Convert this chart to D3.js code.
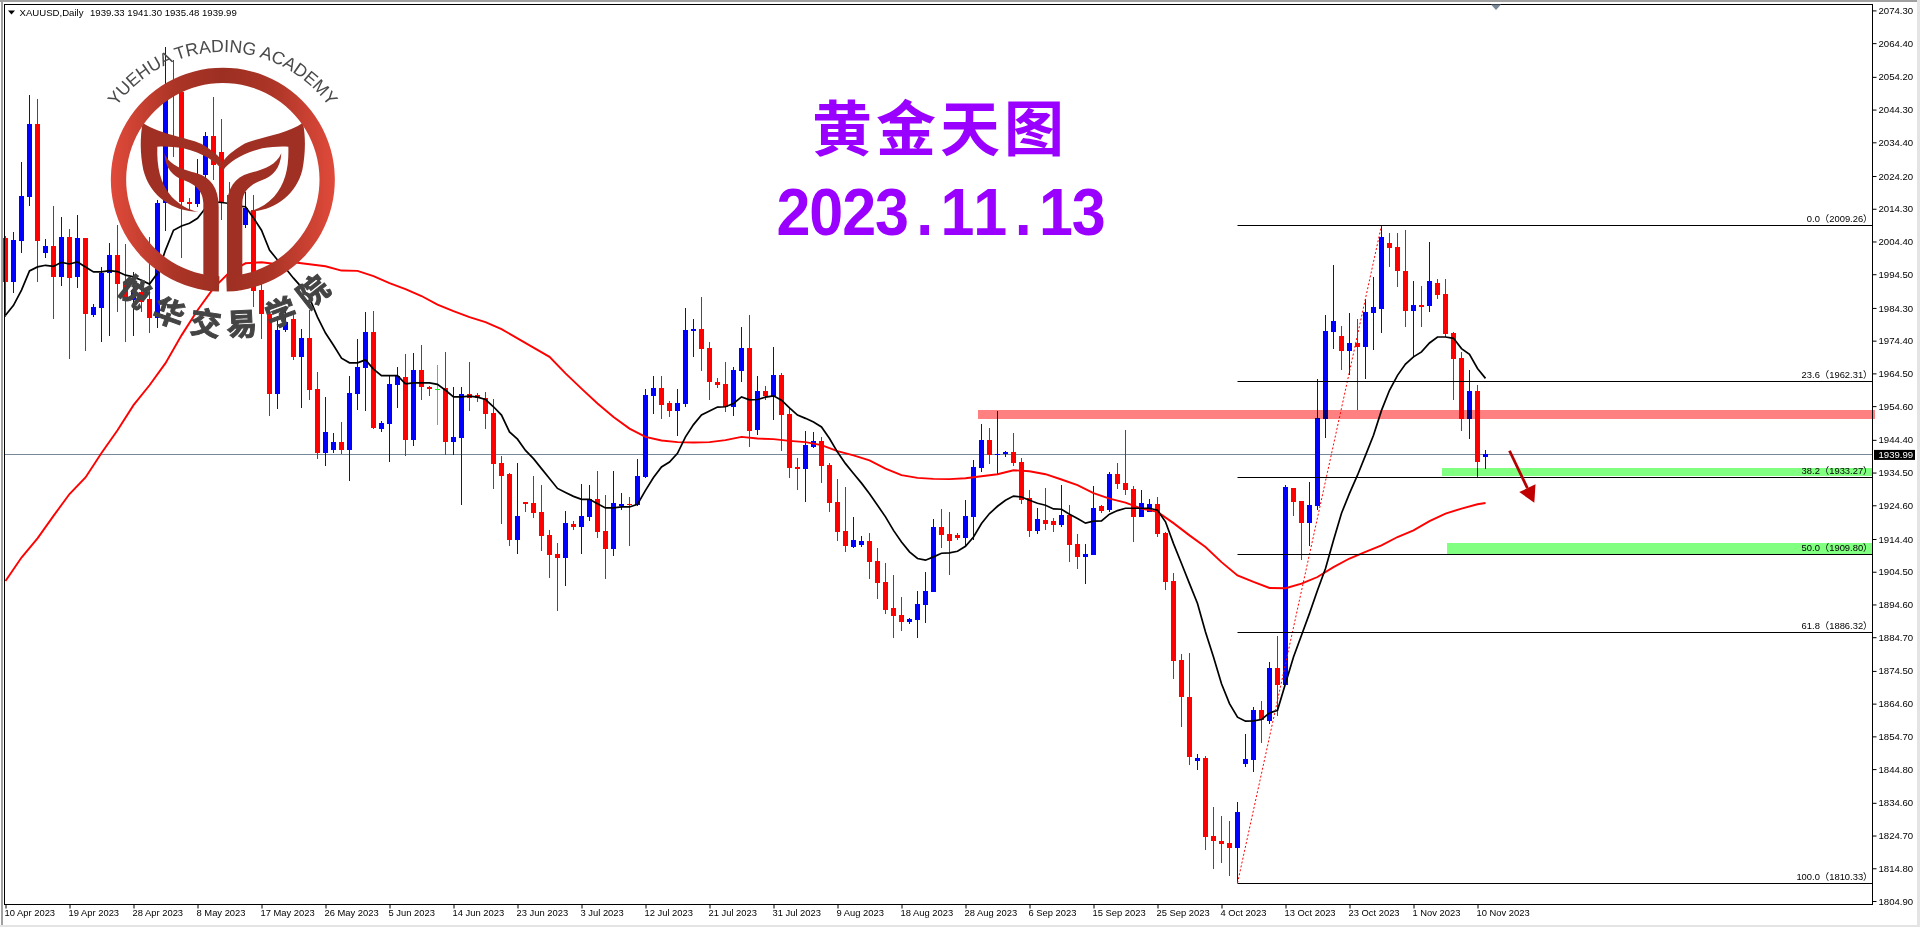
<!DOCTYPE html>
<html><head><meta charset="utf-8">
<script src="https://cdn.jsdelivr.net/npm/d3@7"></script>
<style>html,body{margin:0;padding:0;background:#fff;overflow:hidden}svg{display:block}text{font-family:"Liberation Sans",Arial,"Noto Sans CJK SC",sans-serif}</style>
</head><body><div id="chart"></div>
<script>
const opens=[2005.4,1992.2,2004.6,2017.9,2039.9,2001.0,2003.0,1993.7,2005.7,1993.7,
2005.4,1982.2,1984.3,1995.0,2000.3,1991.7,1986.6,1989.1,1987.0,1981.3,
2015.9,2050.8,2049.7,2016.3,2015.7,2024.5,2036.3,2031.5,2018.4,2015.4,
2009.4,2013.9,1989.7,1982.6,1958.2,1977.6,1980.8,1969.4,1975.2,1959.7,
1940.4,1941.3,1943.7,1941.3,1958.2,1966.2,1977.0,1947.6,1949.1,1960.9,
1963.3,1944.3,1965.4,1960.3,1959.9,1960.0,1943.7,1944.9,1958.2,1957.9,
1957.0,1952.4,1937.3,1934.0,1914.0,1925.5,1925.2,1922.5,1915.5,1909.8,
1908.6,1918.9,1918.0,1921.0,1926.4,1916.7,1911.3,1924.3,1924.9,1924.6,
1933.1,1957.6,1960.0,1955.5,1953.1,1955.2,1977.3,1977.9,1972.1,1961.8,
1961.2,1954.3,1965.2,1972.1,1947.3,1959.1,1957.6,1964.0,1952.1,1936.1,
1935.5,1942.2,1944.0,1936.7,1925.5,1916.7,1911.9,1912.5,1913.7,1907.7,
1901.3,1893.4,1891.3,1889.2,1889.8,1894.3,1898.3,1918.0,1915.8,1915.5,
1914.6,1921.0,1935.8,1944.3,1939.7,1940.0,1940.7,1937.6,1926.7,1916.7,
1920.1,1919.8,1918.6,1921.6,1912.8,1908.9,1909.5,1924.3,1923.1,1934.0,
1931.3,1929.5,1921.0,1922.5,1924.9,1916.1,1901.6,1877.7,1866.5,1847.4,
1848.3,1824.7,1823.2,1822.3,1820.8,1846.2,1847.7,1862.6,1859.2,1875.3,
1870.1,1929.7,1925.8,1919.2,1924.3,1950.6,1977.0,1975.8,1971.2,1973.6,
1972.4,1982.7,1984.0,2003.9,2002.7,1995.4,1983.3,1985.1,1984.8,1991.8,
1988.5,1976.7,1969.1,1950.6,1959.1,1939.33];
const highs=[2006.0,2007.4,2028.3,2048.7,2047.4,2005.0,2015.1,2011.8,2008.1,2012.4,
2005.4,1985.4,1996.6,2003.9,2009.4,2003.6,1995.1,1991.5,2005.8,2016.9,
2063.1,2059.3,2051.7,2017.5,2029.3,2037.5,2048.0,2041.4,2022.5,2019.9,
2019.3,2018.4,1994.2,1983.6,1981.8,1983.6,1982.6,1977.8,1983.6,1964.9,
1957.3,1946.4,1949.7,1963.6,1974.8,1983.0,1983.3,1950.0,1963.6,1966.4,
1970.3,1970.6,1973.0,1960.6,1967.0,1970.9,1960.3,1960.3,1967.9,1958.5,
1958.8,1956.7,1939.4,1934.3,1937.3,1925.5,1933.4,1930.7,1917.0,1913.1,
1922.8,1919.8,1931.0,1930.7,1934.9,1927.6,1934.9,1928.2,1927.0,1938.5,
1959.7,1963.6,1963.6,1956.1,1959.7,1984.2,1980.9,1987.6,1973.9,1963.0,
1967.9,1966.4,1978.5,1982.1,1963.6,1960.6,1972.4,1964.6,1954.3,1938.8,
1947.0,1946.7,1945.2,1937.3,1932.5,1930.1,1921.0,1915.2,1916.1,1911.6,
1907.1,1903.4,1896.8,1890.4,1898.6,1904.3,1920.4,1923.4,1922.5,1916.1,
1926.1,1938.2,1949.1,1947.9,1953.1,1941.0,1946.4,1938.8,1929.1,1923.7,
1929.7,1920.7,1930.7,1924.6,1915.8,1912.8,1930.4,1924.6,1934.6,1937.3,
1947.3,1930.4,1929.1,1926.4,1927.0,1916.4,1904.0,1879.5,1879.8,1849.5,
1848.9,1833.2,1830.5,1829.0,1834.7,1855.3,1863.5,1865.3,1877.1,1885.0,
1930.7,1929.7,1925.8,1931.6,1962.7,1982.1,1997.2,1978.8,1982.7,1980.9,
1987.0,1993.6,2009.26,2006.9,2006.9,2007.8,1992.4,1990.9,2004.2,1993.0,
1993.0,1977.0,1970.9,1965.4,1960.9,1941.30];
const lows=[1981.6,1988.7,2001.0,2015.2,1992.2,1999.5,1981.0,1991.0,1968.9,1990.4,
1971.3,1981.6,1974.0,1975.8,1983.1,1974.0,1975.8,1983.0,1976.8,1978.3,
2007.5,2029.9,1999.5,2013.9,2014.9,2023.6,2023.0,2010.9,2012.4,2013.3,
2008.5,1984.6,1974.8,1951.6,1953.7,1977.1,1968.5,1953.9,1956.4,1938.5,
1936.4,1940.4,1940.0,1931.9,1953.4,1953.1,1947.6,1946.7,1937.6,1954.0,
1939.4,1942.5,1956.4,1957.6,1948.8,1939.7,1939.7,1924.6,1953.1,1955.8,
1947.6,1929.5,1918.9,1912.2,1909.8,1922.5,1920.7,1910.7,1902.5,1892.5,
1900.1,1917.0,1909.8,1919.8,1914.6,1902.2,1909.2,1923.1,1912.2,1924.3,
1932.8,1952.1,1950.6,1951.2,1945.5,1954.3,1969.4,1965.2,1956.4,1960.0,
1952.8,1951.5,1961.8,1942.2,1945.8,1956.4,1950.3,1941.0,1932.8,1929.1,
1925.5,1941.9,1931.3,1922.5,1913.7,1910.4,1911.6,1911.9,1902.2,1896.2,
1891.6,1884.6,1886.5,1888.6,1884.4,1888.9,1898.3,1911.6,1903.4,1914.0,
1912.2,1914.0,1934.6,1937.0,1934.0,1939.1,1936.4,1924.9,1914.9,1915.8,
1917.0,1916.4,1918.0,1907.4,1905.2,1900.7,1909.5,1922.2,1922.5,1929.5,
1927.6,1913.4,1921.0,1922.5,1914.9,1898.9,1872.2,1857.4,1845.9,1844.4,
1820.2,1814.7,1816.3,1812.6,1810.33,1845.3,1843.8,1852.6,1858.3,1861.0,
1870.1,1921.3,1907.9,1912.2,1923.1,1944.9,1971.8,1965.4,1964.0,1953.4,
1962.7,1971.5,1976.7,1996.6,1990.6,1978.5,1969.4,1978.5,1983.0,1987.0,
1975.5,1956.4,1947.0,1944.6,1933.1,1935.48];
const closes=[1992.2,2004.8,2018.1,2039.9,2004.6,2003.0,1993.7,2005.7,1993.4,2005.4,
1982.5,1984.5,1995.0,2000.3,1991.6,1987.3,1989.7,1986.0,1981.3,2015.9,
2047.2,2049.6,2016.4,2015.7,2024.5,2036.3,2027.5,2016.4,2015.4,2018.4,
2014.5,1989.5,1982.4,1958.2,1977.6,1980.1,1969.4,1975.2,1959.4,1940.4,
1946.7,1943.7,1941.3,1958.5,1966.4,1977.0,1947.9,1949.4,1961.2,1963.6,
1944.3,1965.4,1960.3,1959.7,1959.9,1943.7,1945.2,1958.2,1957.0,1957.0,
1952.1,1937.0,1933.4,1914.0,1921.3,1924.9,1922.2,1915.2,1909.5,1908.6,
1919.2,1918.0,1921.3,1926.4,1916.4,1911.3,1925.2,1924.9,1924.6,1933.4,
1957.9,1960.0,1954.9,1953.1,1955.5,1977.6,1977.9,1971.8,1961.8,1960.9,
1954.3,1965.4,1972.1,1947.0,1959.1,1957.6,1964.0,1951.9,1935.8,1935.5,
1942.8,1944.0,1936.4,1925.2,1916.4,1912.2,1914.0,1913.7,1907.4,1901.0,
1892.8,1891.0,1889.2,1890.1,1894.6,1898.6,1918.0,1915.5,1913.7,1914.6,
1921.3,1936.1,1944.3,1939.7,1940.0,1940.7,1937.3,1926.1,1916.7,1920.4,
1918.9,1918.6,1921.6,1912.5,1908.9,1909.8,1923.7,1922.8,1934.0,1931.0,
1929.1,1921.0,1925.2,1924.9,1915.8,1901.3,1877.4,1866.5,1848.6,1848.3,
1824.4,1822.9,1822.0,1820.8,1831.7,1848.0,1862.6,1859.5,1875.3,1870.1,
1930.0,1925.5,1919.2,1924.6,1951.0,1977.3,1980.3,1971.2,1973.6,1972.4,
1983.0,1984.5,2005.7,2002.4,1995.4,1983.3,1985.1,1984.5,1992.4,1988.2,
1976.4,1968.8,1950.6,1959.1,1937.6,1939.99];
const fastMA=[1982.1,1985.1,1989.7,1995.5,1996.7,1997.2,1996.9,1998.1,1997.6,1998.2,
1996.7,1995.2,1995.2,1995.6,1995.3,1994.2,1993.7,1992.7,1991.5,1994.8,
2001.8,2007.8,2009.1,2009.9,2011.4,2014.5,2016.4,2016.2,2015.9,2015.1,
2014.9,2011.5,2007.8,2001.8,1998.8,1996.3,1993.3,1990.6,1987.3,1981.5,
1976.7,1973.0,1969.1,1967.7,1967.7,1968.6,1965.8,1963.8,1963.8,1963.8,
1961.3,1961.6,1961.6,1961.6,1961.2,1959.4,1957.4,1957.4,1957.6,1957.3,
1956.6,1954.4,1951.9,1946.8,1944.6,1941.2,1938.7,1935.7,1932.7,1929.7,
1928.5,1927.3,1926.4,1926.4,1925.1,1923.8,1923.8,1924.1,1924.1,1924.9,
1929.1,1933.0,1936.2,1937.7,1940.3,1945.3,1949.0,1951.9,1953.1,1954.3,
1954.4,1955.4,1957.4,1956.5,1956.6,1957.3,1957.7,1956.4,1954.1,1951.9,
1950.9,1949.8,1948.3,1944.8,1940.7,1937.2,1934.2,1931.3,1928.1,1924.6,
1921.1,1917.0,1913.5,1910.5,1908.5,1908.0,1909.0,1910.1,1910.2,1910.7,
1912.2,1915.0,1919.1,1922.1,1924.3,1926.1,1927.4,1927.1,1926.1,1925.2,
1924.6,1923.5,1923.4,1921.9,1920.6,1919.2,1919.8,1919.9,1921.9,1923.0,
1923.7,1923.7,1923.7,1923.7,1923.1,1919.6,1913.0,1907.0,1900.9,1894.9,
1886.3,1878.7,1870.6,1864.6,1860.5,1859.3,1859.4,1859.8,1861.8,1862.6,
1870.7,1878.7,1885.3,1891.9,1898.9,1905.5,1914.0,1922.2,1928.2,1933.7,
1939.7,1945.8,1953.3,1959.4,1963.9,1967.3,1969.5,1971.0,1973.7,1975.5,
1975.5,1975.1,1972.0,1970.3,1966.0,1963.0];
const slowMA=[1901.7,1908.8,1914.6,1921.4,1928.0,1933.0,1940.4,1947.3,1954.9,1960.9,
1967.6,1976.0,1983.6,1990.3,1995.1,1997.8,1998.1,1997.5,1998.1,1997.5,
1996.9,1995.6,1995.5,1993.9,1991.8,1990.0,1987.9,1985.3,1983.3,1981.5,
1980.0,1977.9,1975.1,1972.3,1969.5,1964.5,1959.9,1955.4,1951.3,1947.8,
1945.3,1944.2,1943.7,1943.6,1943.7,1944.3,1945.3,1944.8,1944.6,1944.1,
1943.7,1942.8,1941.0,1939.7,1938.2,1935.7,1933.7,1932.9,1932.6,1932.5,
1932.8,1933.4,1934.0,1935.2,1934.9,1934.0,1932.4,1930.7,1928.3,1926.6,
1925.4,1923.6,1922.6,1919.2,1915.5,1912.0,1907.4,1903.4,1901.4,1899.6,
1899.5,1900.9,1902.9,1905.9,1908.5,1910.5,1912.5,1915.0,1917.0,1919.8,
1922.1,1923.6,1924.9,1925.3];
const slowBars=slowMA.map((v,k)=>Math.min(k*2,185));
const dateLabels=["10 Apr 2023","19 Apr 2023","28 Apr 2023","8 May 2023","17 May 2023","26 May 2023","5 Jun 2023","14 Jun 2023","23 Jun 2023","3 Jul 2023","12 Jul 2023","21 Jul 2023","31 Jul 2023","9 Aug 2023","18 Aug 2023","28 Aug 2023","6 Sep 2023","15 Sep 2023","25 Sep 2023","4 Oct 2023","13 Oct 2023","23 Oct 2023","1 Nov 2023","10 Nov 2023"];
const dateBars=dateLabels.map((d,k)=>k*8);
const priceTicks=[2074.30,2064.40,2054.20,2044.30,2034.40,2024.20,2014.30,2004.40,1994.50,1984.30,1974.40,1964.50,1954.60,1944.40,1934.50,1924.60,1914.40,1904.50,1894.60,1884.70,1874.50,1864.60,1854.70,1844.80,1834.60,1824.70,1814.80,1804.90];
const fibLevels=["0.0","23.6","38.2","50.0","61.8","100.0"];
const fibPrices=[2009.26,1962.31,1933.27,1909.80,1886.32,1810.33];
const fibStartBar=154, fibTopBar=172;
const lastPrice=1939.99;
const symbolText="XAUUSD,Daily";
const ohlcText="1939.33 1941.30 1935.48 1939.99";
const titleText="黄金天图", dateText="2023.11.13";
const logoLatin="YUEHUA TRADING ACADEMY";
const logoChinese=["悦","华","交","易","学","院"];
const redZone=[121.6,1953.4,1950.7];
const greenZones=[[179.5,1935.9,1933.5],[180.2,1913.1,1909.8]];
const arrowFrom=[188,1941.1], arrowTo=[191.1,1925.4];

const W=1920,H=927,L=4.5,T=4.5,R=1872.5,B=904.5;
const svg=d3.select("#chart").append("svg").attr("width",W).attr("height",H).attr("viewBox",[0,0,W,H]);
const x=d3.scaleLinear().domain([0,185]).range([5.5,1485.5]);
const y=d3.scaleLinear().domain([1804.9,2074.3]).range([901,10.4]);
const px=v=>Math.round(y(v));

// window edges
svg.append("rect").attr("width",W).attr("height",H).attr("fill","#fff");
svg.append("rect").attr("width",W).attr("height",2).attr("fill","#a0a0a0");
svg.append("rect").attr("x",1).attr("width",2).attr("height",H).attr("fill","#a0a0a0");
svg.append("rect").attr("y",925).attr("width",W).attr("height",2).attr("fill","#e4e4e4");
svg.append("rect").attr("x",1917).attr("width",3).attr("height",H).attr("fill","#e4e4e4");

// last price line lies under the candles
svg.append("line").attr("x1",L).attr("x2",R).attr("y1",px(lastPrice)+.5).attr("y2",px(lastPrice)+.5).attr("stroke","#778899");

// candles
const idx=d3.range(opens.length);
const candleColor=i=>closes[i]>opens[i]?"#0000ff":closes[i]<opens[i]?"#ff0000":"#00ff00";
const candles=svg.append("g").attr("shape-rendering","crispEdges");
candles.selectAll(".w").data(idx).join("rect").attr("class","w")
 .attr("x",i=>x(i)-.5).attr("width",1)
 .attr("y",i=>px(highs[i])).attr("height",i=>Math.max(1,px(lows[i])-px(highs[i])))
 .attr("fill",candleColor);
candles.selectAll(".b").data(idx).join("rect").attr("class","b")
 .attr("x",i=>x(i)-2.5).attr("width",5)
 .attr("y",i=>px(Math.max(opens[i],closes[i])))
 .attr("height",i=>Math.max(1,px(Math.min(opens[i],closes[i]))-px(Math.max(opens[i],closes[i]))))
 .attr("fill",candleColor);

// moving averages
const ln=d3.line().x(d=>x(d[0])).y(d=>y(d[1]));
svg.append("path").attr("d",ln(slowMA.map((v,k)=>[slowBars[k],v]))).attr("fill","none").attr("stroke","#ff0000").attr("stroke-width",1.9);
svg.append("path").attr("d",ln(fastMA.map((v,k)=>[k,v]))).attr("fill","none").attr("stroke","#000").attr("stroke-width",1.7);

// zones tint what lies beneath them
const zones=svg.append("g").attr("shape-rendering","crispEdges");
zones.append("rect").attr("x",x(redZone[0])).attr("width",1875-x(redZone[0])).attr("y",y(redZone[1])).attr("height",y(redZone[2])-y(redZone[1])).attr("fill","#ff8080").style("mix-blend-mode","multiply");
zones.selectAll(".g").data(greenZones).join("rect").attr("class","g").attr("x",d=>x(d[0])).attr("width",d=>R-x(d[0])).attr("y",d=>y(d[1])).attr("height",d=>y(d[2])-y(d[1])).attr("fill","#80ff80").style("mix-blend-mode","multiply");

// fibonacci
svg.append("line").attr("x1",x(fibStartBar)).attr("y1",y(fibPrices[5])).attr("x2",x(fibTopBar)).attr("y2",y(fibPrices[0])).attr("stroke","#ff0000").attr("stroke-dasharray","2,2");
const fib=svg.append("g");
fib.selectAll("line").data(fibPrices).join("line").attr("x1",x(fibStartBar)).attr("x2",R).attr("y1",d=>px(d)+.5).attr("y2",d=>px(d)+.5).attr("stroke","#000");
fib.selectAll("text").data(fibPrices).join("text").attr("x",1872.5).attr("y",d=>px(d)-3.5).attr("text-anchor","end").attr("font-size",9.4).attr("fill","#000").text((d,k)=>fibLevels[k]+"（"+d.toFixed(2)+"）");

// arrow
const ax0=x(arrowFrom[0]),ay0=y(arrowFrom[1]),ax1=x(arrowTo[0]),ay1=y(arrowTo[1]);
const ang=Math.atan2(ay1-ay0,ax1-ax0),headLen=16,headW=9;
const bx=ax1-headLen*Math.cos(ang),by=ay1-headLen*Math.sin(ang);
svg.append("line").attr("x1",ax0).attr("y1",ay0).attr("x2",bx).attr("y2",by).attr("stroke","#b40000").attr("stroke-width",2.8);
svg.append("path").attr("fill","#c00000").attr("d",d3.line()([[ax1,ay1],[bx-headW*Math.sin(ang),by+headW*Math.cos(ang)],[bx+headW*Math.sin(ang),by-headW*Math.cos(ang)]])+"Z");

// frame & axes
svg.append("rect").attr("x",L).attr("y",T).attr("width",R-L).attr("height",B-T).attr("fill","none").attr("stroke","#000");
const yAxis=d3.axisRight(y).tickValues(priceTicks).tickSize(4).tickPadding(2).tickFormat(d3.format(".2f"));
const yG=svg.append("g").attr("transform",`translate(${R},0)`).call(yAxis);
yG.select(".domain").remove();
yG.selectAll("text").attr("font-size",9.6).attr("font-family",'"Liberation Sans",Arial,sans-serif').attr("fill","#000");
const xAxis=d3.axisBottom(x).tickValues(dateBars).tickSize(4).tickPadding(1).tickFormat((d,k)=>dateLabels[k]);
const xG=svg.append("g").attr("transform",`translate(0,${B})`).call(xAxis);
xG.select(".domain").remove();
xG.selectAll("text").attr("text-anchor","start").attr("dx",-1.5).attr("font-size",9.4).attr("font-family",'"Liberation Sans",Arial,sans-serif').attr("fill","#000");

// last price tag
const tagY=y(lastPrice);
svg.append("rect").attr("x",1874).attr("y",tagY-4.5).attr("width",41).attr("height",10).attr("fill","#000");
svg.append("text").attr("x",1878.5).attr("y",tagY+3.7).attr("font-size",9.6).attr("fill","#fff").text(lastPrice.toFixed(2));

// header
svg.append("path").attr("d","M8,10.5L15,10.5L11.5,14.5Z").attr("fill","#000");
svg.append("text").attr("x",19.5).attr("y",15.8).attr("font-size",9.6).attr("fill","#000").text(symbolText);
svg.append("text").attr("x",90).attr("y",15.8).attr("font-size",9.6).attr("fill","#000").text(ohlcText);
svg.append("path").attr("d","M1491,4.5L1501,4.5L1496,10Z").attr("fill","#778899");

// titles
svg.append("text").attr("x",940).attr("y",151).attr("text-anchor","middle").attr("font-size",60).attr("font-weight",700).attr("letter-spacing",4).attr("fill","#9900ff").style("font-family",'"Noto Sans CJK SC",sans-serif').text(titleText);
const dateG=svg.append("g").attr("transform","translate(777,235)");
dateG.selectAll("text").data(dateText.split("")).join("text")
 .attr("transform",(c,k)=>`translate(${16.5+k*32.8},0) scale(1,1.1)`).attr("text-anchor","middle")
 .attr("font-size",61).attr("font-weight",700).attr("fill","#9900ff").text(c=>c);

// academy logo (drawn over the chart)
const defs=svg.append("defs");
const rg=defs.append("linearGradient").attr("id","ringGrad").attr("gradientUnits","userSpaceOnUse").attr("x1",-336).attr("x2",336).attr("y1",0).attr("y2",0);
[[0,"#e04a3a"],[.28,"#ac3527"],[.5,"#9c2f22"],[.72,"#ac3527"],[1,"#e04a3a"]].forEach(s=>rg.append("stop").attr("offset",s[0]).attr("stop-color",s[1]));
const logo=svg.append("g").attr("transform","translate(60,40) scale(0.33333)");
const horn="M248,248C300,285 400,295 430,315C455,330 480,350 488,365L488,392C470,365 430,340 370,325C340,320 315,318 292,320C290,380 300,430 335,470C360,495 385,510 415,515C340,515 270,470 250,390C240,340 240,290 248,248Z";
const leaf="M313,340C330,380 375,390 410,400C452,412 476,445 476,500L476,730C476,748 462,755 445,752L430,702L430,490C430,450 400,430 370,420C340,410 315,385 313,340Z";
[null,"translate(977,0) scale(-1,1)"].forEach(t=>{
 [horn,leaf].forEach(d=>logo.append("path").attr("d",d).attr("fill","#a03024").attr("transform",t));
});
logo.append("path").attr("transform","translate(488.5,419)").attr("fill","url(#ringGrad)")
 .attr("d",d3.arc().innerRadius(290).outerRadius(336).startAngle(-(Math.PI-.035)).endAngle(Math.PI-.035)());
const a=62*Math.PI/180,rr=392,cx=488,cy=428;
defs.append("path").attr("id","logoArc").attr("d",`M${cx-rr*Math.sin(a)},${cy-rr*Math.cos(a)}A${rr},${rr} 0 0 1 ${cx+rr*Math.sin(a)},${cy-rr*Math.cos(a)}`);
logo.append("text").attr("font-size",53).attr("fill","#4a4a4a").append("textPath").attr("href","#logoArc").attr("startOffset","50%").attr("text-anchor","middle").text(logoLatin);
const charPos=[[228,750,38],[330,812,20],[438,843,8],[545,845,-3],[660,812,-20],[755,750,-38]];
logo.selectAll(".zh").data(logoChinese).join("text").attr("class","zh").attr("text-anchor","middle").attr("dominant-baseline","central")
 .attr("transform",(d,k)=>`translate(${charPos[k][0]},${charPos[k][1]}) rotate(${charPos[k][2]})`)
 .attr("font-size",92).attr("font-weight",700).attr("fill","#444").attr("stroke","#444").attr("stroke-width",3).style("font-family",'"Noto Sans CJK SC",sans-serif').text(d=>d);
</script></body></html>
